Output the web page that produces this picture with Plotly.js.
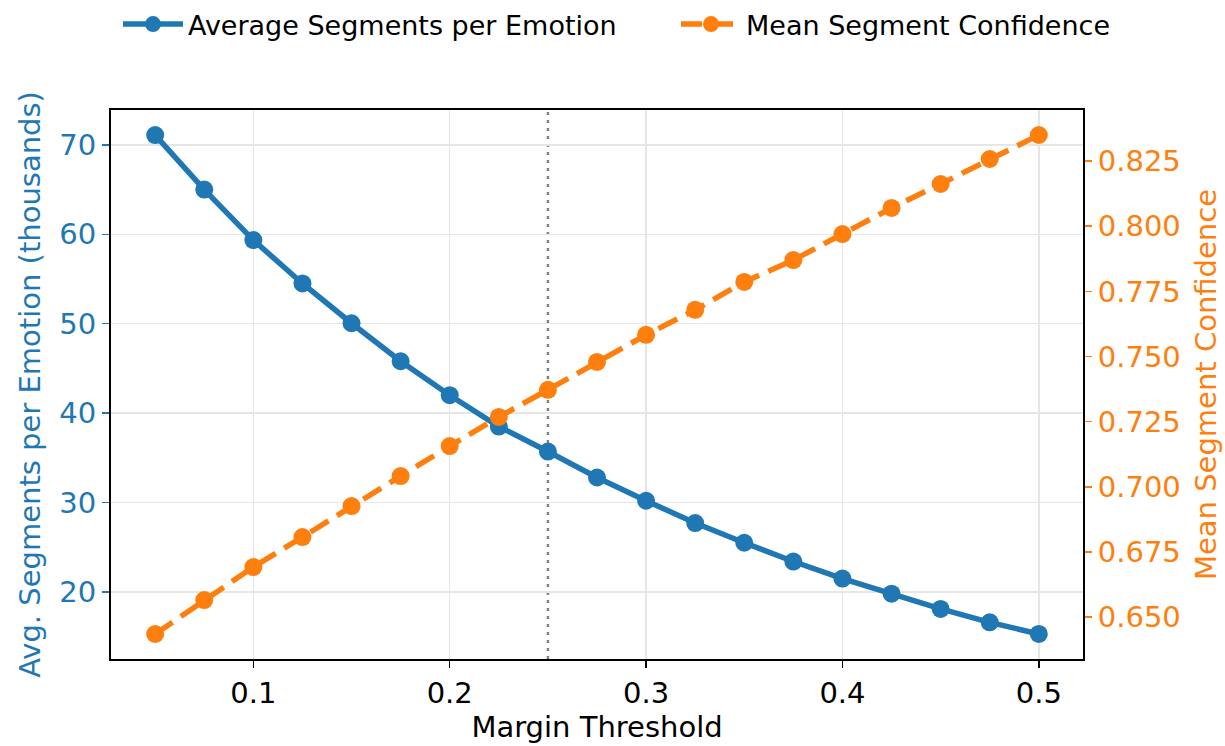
<!DOCTYPE html>
<html>
<head>
<meta charset="utf-8">
<script src="https://cdn.plot.ly/plotly-3.0.1.min.js"></script>
<style>html,body{margin:0;padding:0;background:#fff;}</style>
</head>
<body>
<div id="chart" style="width:1225px;height:746px;"></div>
<script>
const marginThreshold = [0.05,0.075,0.1,0.125,0.15,0.175,0.2,0.225,0.25,0.275,0.3,0.325,0.35,0.375,0.4,0.425,0.45,0.475,0.5];
const avgSegments = [71.1,65.0,59.35,54.5,50.05,45.8,42.0,38.5,35.7,32.8,30.2,27.7,25.5,23.4,21.5,19.8,18.1,16.6,15.3];
const meanConfidence = [0.6435,0.6565,0.6692,0.6807,0.6926,0.7041,0.7156,0.7268,0.7372,0.7479,0.7583,0.7679,0.7786,0.7870,0.7970,0.8070,0.8162,0.8258,0.8350];
const xTicks = [0.1,0.2,0.3,0.4,0.5];
const xTickLabels = ['0.1','0.2','0.3','0.4','0.5'];
const leftTicks = [20,30,40,50,60,70];
const rightTicks = [0.650,0.675,0.700,0.725,0.750,0.775,0.800,0.825];
const rightTickLabels = ['0.650','0.675','0.700','0.725','0.750','0.775','0.800','0.825'];
const cutoff = 0.25;

const blue = '#1f77b4', orange = '#ff7f0e';
const font = 'DejaVu Sans, sans-serif';

const traces = [
  {x: marginThreshold, y: avgSegments, name: 'Average Segments per Emotion', type: 'scatter', mode: 'lines+markers',
   line: {color: blue, width: 5.5}, marker: {color: blue, size: 18}, yaxis: 'y', legend: 'legend'},
  {x: marginThreshold, y: meanConfidence, name: 'Mean Segment Confidence', type: 'scatter', mode: 'lines+markers',
   line: {color: orange, width: 5.5, dash: '21px,10px'}, marker: {color: orange, size: 18}, yaxis: 'y2', legend: 'legend2'}
];

const legendCommon = {orientation: 'h', xref: 'container', yref: 'container', xanchor: 'left', y: 1, yanchor: 'top',
                      font: {family: font, size: 27, color: '#000'}, itemwidth: 60, bgcolor: 'rgba(0,0,0,0)'};

const layout = {
  width: 1225, height: 746,
  margin: {l: 111, r: 142, t: 110, b: 87},
  paper_bgcolor: '#fff', plot_bgcolor: '#fff',
  font: {family: font, size: 29, color: '#000'},
  showlegend: true,
  legend: Object.assign({}, legendCommon, {x: 118 / 1225}),
  legend2: Object.assign({}, legendCommon, {x: 676 / 1225}),
  xaxis: {range: [0.0275, 0.5225], tickvals: xTicks, ticktext: xTickLabels,
          showgrid: true, gridcolor: '#e6e6e6', gridwidth: 1.5, zeroline: false,
          showline: true, linecolor: '#000', linewidth: 2, mirror: true,
          ticks: 'outside', ticklen: 7, tickwidth: 1.5, tickcolor: '#000',
          tickfont: {family: font, size: 29, color: '#000'},
          title: {text: 'Margin Threshold', font: {family: font, size: 29, color: '#000'}, standoff: 4}},
  yaxis: {range: [12.5, 73.9], tickvals: leftTicks,
          showgrid: true, gridcolor: '#e6e6e6', gridwidth: 1.5, zeroline: false,
          showline: true, linecolor: '#000', linewidth: 2,
          ticks: 'outside', ticklen: 7, tickwidth: 1.5, tickcolor: blue,
          tickfont: {family: font, size: 29, color: blue},
          title: {text: 'Avg. Segments per Emotion (thousands)', font: {family: font, size: 29, color: blue}, standoff: 10}},
  yaxis2: {range: [0.6339, 0.8446], tickvals: rightTicks, ticktext: rightTickLabels,
           overlaying: 'y', side: 'right', showgrid: false, zeroline: false,
           showline: true, linecolor: '#000', linewidth: 2,
           ticks: 'outside', ticklen: 7, tickwidth: 1.5, tickcolor: orange,
           tickfont: {family: font, size: 29, color: orange},
           title: {text: 'Mean Segment Confidence', font: {family: font, size: 29, color: orange}, standoff: 16}},
  shapes: [{type: 'line', xref: 'x', yref: 'paper', x0: cutoff, x1: cutoff, y0: 0, y1: 1,
            line: {color: '#808080', width: 2.5, dash: '3px,5px'}, layer: 'below'}]
};

Plotly.newPlot('chart', traces, layout, {displayModeBar: false, staticPlot: true});
</script>
</body>
</html>
